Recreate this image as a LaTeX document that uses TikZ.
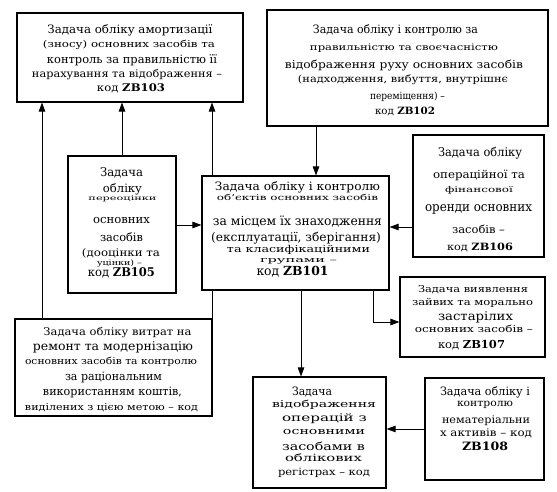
\documentclass[tikz,border=0pt]{standalone}
\usepackage{graphicx}
\usepackage{fontspec}
\setmainfont{DejaVu Serif}
\usetikzlibrary{arrows.meta,backgrounds}
% one text line: name, x, y (visual centre), width, size, text
\newcommand\tl[6]{\node[lin] (#1) at (#2,{#3+0.3*#5}) {\resizebox{#4pt}{\height}{\fontsize{#5}{#5}\selectfont #6}};}
\begin{document}
\begin{tikzpicture}[x=1pt,y=-1pt,
  box/.style={draw, line width=1.1pt, fill=white, inner sep=0pt},
  lin/.style={inner sep=0pt, anchor=base},
  arr/.style={line width=0.8pt, -{Triangle[length=9pt,width=6.5pt]}}]
\useasboundingbox (0,0) rectangle (557,492);
% boxes
\node[box, minimum width=226pt, minimum height=89pt]  (b103) at (130,57.5) {};
\node[box, minimum width=281pt, minimum height=116pt] (b102) at (407.5,68) {};
\node[box, minimum width=108pt, minimum height=137pt] (b105) at (122,224.5) {};
\node[box, minimum width=187pt, minimum height=114pt] (b101) at (295.5,233) {};
\node[box, minimum width=131pt, minimum height=122pt] (b106) at (478.5,196) {};
\node[box, minimum width=145pt, minimum height=80pt]  (b107) at (472.5,317) {};
\node[box, minimum width=197pt, minimum height=97pt]  (b104) at (113.5,367.5) {};
\node[box, minimum width=133pt, minimum height=111pt] (bm)   at (319.5,432.5) {};
\node[box, minimum width=119pt, minimum height=102pt] (b108) at (484.5,429) {};
% ZB103
\tl{t103a}{130}{30}{165}{11.5}{Задача обліку амортизації}
\tl{t103b}{129}{45}{172}{9.5}{(зносу) основних засобів та}
\tl{t103c}{132}{60}{170}{11.5}{контроль за правильністю її}
\tl{t103d}{127}{74}{190}{10.5}{нарахування та відображення –}
\tl{t103e}{131}{88}{68}{10.5}{код \textbf{ZB103}}
% ZB102
\tl{t102a}{395.5}{30}{165}{11.5}{Задача обліку і контролю за}
\tl{t102b}{404}{48}{188}{9}{правильністю та своєчасністю}
\tl{t102c}{404}{65}{238}{11}{відображення руху основних засобів}
\tl{t102d}{403}{80}{210}{10}{(надходження, вибуття, внутрішнє}
\tl{t102e}{407.5}{97}{75}{10}{переміщення) –}
\tl{t102f}{405}{112}{60}{10}{код \textbf{ZB102}}
% ZB105
\tl{t105a}{121.5}{173}{43}{12}{Задача}
\tl{t105b}{122.5}{189}{39}{11.5}{обліку}
\tl{t105c}{122.5}{199}{68}{6.5}{переоцінки}
\tl{t105d}{121.5}{220}{57}{11.5}{основних}
\tl{t105e}{121.5}{238}{43}{11.5}{засобів}
\tl{t105f}{121}{253}{78}{10.5}{(дооцінки та}
\tl{t105g}{119.5}{263}{45}{7.5}{уцінки) –}
\tl{t105h}{121.5}{273}{67}{12}{код \textbf{ZB105}}
% ZB101
\tl{t101a}{297.5}{187}{165}{11.5}{Задача обліку і контролю}
\tl{t101b}{297.5}{198}{161}{8}{об'єктів основних засобів}
\tl{t101c}{297.5}{222}{169}{12.5}{за місцем їх знаходження}
\tl{t101d}{296}{238}{170}{12}{(експлуатації, зберігання)}
\tl{t101e}{298.5}{250}{143}{9.5}{та класифікаційними}
\tl{t101f}{298.5}{260}{77}{7.5}{групами –}
\tl{t101g}{292.5}{272}{72}{12.5}{код \textbf{ZB101}}
% ZB106
\tl{t106a}{480}{153}{84}{12}{Задача обліку}
\tl{t106b}{479}{175}{92}{11}{операційної та}
\tl{t106c}{479}{190}{68}{8}{фінансової}
\tl{t106d}{478.5}{208}{107}{13}{оренди основних}
\tl{t106e}{478.5}{230}{53}{11}{засобів –}
\tl{t106f}{480}{247}{66}{10}{код \textbf{ZB106}}
% ZB107
\tl{t107a}{473}{290}{110}{9.5}{Задача виявлення}
\tl{t107b}{472.5}{303}{121}{9.5}{зайвих та морально}
\tl{t107c}{475.5}{317}{75}{12}{застарілих}
\tl{t107d}{474}{330}{118}{9.5}{основних засобів –}
\tl{t107e}{471.5}{345}{67}{11}{код \textbf{ZB107}}
% bottom left
\tl{t104a}{117.5}{332}{148}{10.5}{Задача обліку витрат на}
\tl{t104b}{113}{347}{160}{12}{ремонт та модернізацію}
\tl{t104c}{111}{362}{172}{9.5}{основних засобів та контролю}
\tl{t104d}{113.5}{377}{97}{11.5}{за раціональним}
\tl{t104e}{112.5}{392}{139}{11.5}{використанням коштів,}
\tl{t104f}{111.5}{408}{173}{9.5}{виділених з цією метою – код}
% bottom middle
\tl{tma}{312}{392}{40}{11.5}{Задача}
\tl{tmb}{324}{405}{104}{9.5}{відображення}
\tl{tmc}{324.5}{418}{85}{10.5}{операцій з}
\tl{tmd}{324}{432}{82}{9.5}{основними}
\tl{tme}{323.5}{447}{83}{11}{засобами в}
\tl{tmf}{323.5}{458}{77}{10}{облікових}
\tl{tmg}{324}{472}{92}{10}{регістрах – код}
% ZB108
\tl{t108a}{485}{392}{90}{11.5}{Задача обліку і}
\tl{t108b}{485}{403}{56}{10}{контролю}
\tl{t108c}{486}{420}{88}{10.5}{нематеріальни}
\tl{t108d}{486}{433}{92}{10.5}{х активів – код}
\tl{t108e}{485}{447}{46}{11.5}{\textbf{ZB108}}
% connectors
\coordinate (xa) at (42,0);
\coordinate (xc) at (212,0);
\coordinate (xd) at (316,0);
\coordinate (xe) at (301,0);
\coordinate (kf) at (373,322);
\coordinate (ya) at (0,225);
\coordinate (yb) at (0,227);
\coordinate (yc) at (0,429);
\begin{scope}[on background layer]
\draw[arr] (xa |- b104.north) -- (xa |- b103.south);
\draw[arr] (b105.north) -- (b105.north |- b103.south);
\draw[arr] (xc |- b104.north) -- (xc |- b103.south);
\draw[arr] (xd |- b102.south) -- (xd |- b101.north);
\draw[arr] (b105.east |- ya) -- (b101.west |- ya);
\draw[arr] (b106.west |- yb) -- (b101.east |- yb);
\draw[arr] (kf |- b101.south) |- (b107.west |- kf);
\draw[arr] (xe |- b101.south) -- (xe |- bm.north);
\draw[arr] (b108.west |- yc) -- (bm.east |- yc);
\end{scope}
\end{tikzpicture}
\end{document}
